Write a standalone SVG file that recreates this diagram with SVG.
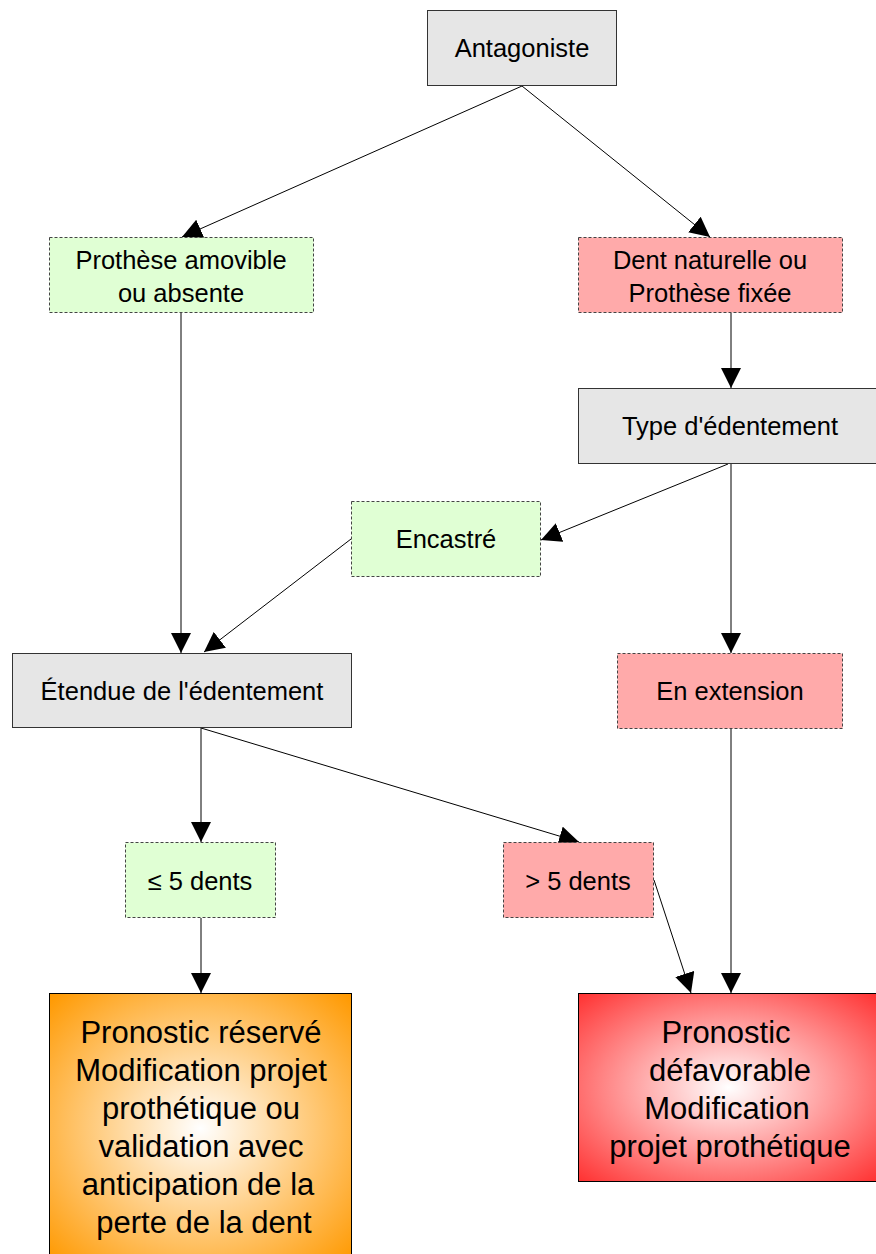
<svg xmlns="http://www.w3.org/2000/svg" width="876" height="1254" viewBox="0 0 876 1254">
<defs>
<style>
.gray{fill:#e6e6e6;stroke:#333;stroke-width:1}
.green{fill:#e0ffd4;stroke:#444;stroke-width:1;stroke-dasharray:3,2}
.pink{fill:#ffaaaa;stroke:#444;stroke-width:1;stroke-dasharray:3,2}
text{font-family:"Liberation Sans",Arial,sans-serif;fill:#000;text-anchor:middle}
.t{font-size:25.5px}
.b{font-size:31px}
.c line{stroke:#000;stroke-width:1;marker-end:url(#ah)}
</style>
<marker id="ah" viewBox="0 0 20 20" refX="20" refY="10" markerWidth="20" markerHeight="20" markerUnits="userSpaceOnUse" orient="auto">
<path d="M0,0 L20,10 L0,20 Z" fill="#000"/>
</marker>
<radialGradient id="og" cx="50%" cy="50%" r="70%">
<stop offset="0" stop-color="#ffffff"/>
<stop offset="1" stop-color="#ff9900"/>
</radialGradient>
<radialGradient id="rg" cx="50%" cy="50%" r="70%">
<stop offset="0" stop-color="#ffffff"/>
<stop offset="1" stop-color="#ff3333"/>
</radialGradient>
</defs>
<g class="c" id="connectors">
<line x1="522" y1="86" x2="182" y2="237"/>
<line x1="522" y1="86" x2="710" y2="237"/>
<line x1="731" y1="313" x2="731" y2="388"/>
<line x1="728" y1="464" x2="541" y2="540"/>
<line x1="731" y1="464" x2="731" y2="653"/>
<line x1="181" y1="313" x2="181" y2="653"/>
<line x1="351" y1="539" x2="204" y2="652"/>
<line x1="201" y1="728" x2="201" y2="842"/>
<line x1="201" y1="728" x2="579" y2="842"/>
<line x1="201" y1="918" x2="201" y2="993"/>
<line x1="654" y1="880" x2="691" y2="993"/>
<line x1="731" y1="729" x2="731" y2="993"/>
</g>
<g id="antagoniste"><rect class="gray" x="427.5" y="10.5" width="189" height="75"/><text class="t" x="522" y="57">Antagoniste</text></g>
<g id="prothese-amovible"><rect class="green" x="49.5" y="237.5" width="264" height="75"/><text class="t" x="181" y="269">Prothèse amovible</text><text class="t" x="181" y="302">ou absente</text></g>
<g id="dent-naturelle"><rect class="pink" x="578.5" y="237.5" width="264" height="75"/><text class="t" x="710" y="269">Dent naturelle ou</text><text class="t" x="710" y="302">Prothèse fixée</text></g>
<g id="type-edentement"><rect class="gray" x="578.5" y="388.5" width="300" height="75"/><text class="t" x="730" y="435">Type d'édentement</text></g>
<g id="encastre"><rect class="green" x="351.5" y="501.5" width="189" height="75"/><text class="t" x="446" y="548">Encastré</text></g>
<g id="etendue"><rect class="gray" x="12.5" y="653.5" width="339" height="74"/><text class="t" x="182" y="700">Étendue de l'édentement</text></g>
<g id="en-extension"><rect class="pink" x="617.5" y="653.5" width="225" height="75"/><text class="t" x="730" y="700">En extension</text></g>
<g id="le5"><rect class="green" x="125.5" y="842.5" width="150" height="75"/><text class="t" x="200" y="890">≤ 5 dents</text></g>
<g id="gt5"><rect class="pink" x="503.5" y="842.5" width="150" height="75"/><text class="t" x="578" y="890">&gt; 5 dents</text></g>
<g id="pronostic-reserve"><rect x="49.5" y="993.5" width="302" height="270" fill="url(#og)" stroke="#000"/>
<text class="b" x="201" y="1043">Pronostic réservé</text>
<text class="b" x="201" y="1081">Modification projet</text>
<text class="b" x="201" y="1119">prothétique ou</text>
<text class="b" x="201" y="1157">validation avec</text>
<text class="b" x="198" y="1195">anticipation de la</text>
<text class="b" x="204" y="1233">perte de la dent</text>
</g>
<g id="pronostic-defavorable"><rect x="578.5" y="993.5" width="300" height="188" fill="url(#rg)" stroke="#000"/>
<text class="b" x="726" y="1043">Pronostic</text>
<text class="b" x="730" y="1081">défavorable</text>
<text class="b" x="727" y="1119">Modification</text>
<text class="b" x="730" y="1157">projet prothétique</text>
</g>
</svg>
